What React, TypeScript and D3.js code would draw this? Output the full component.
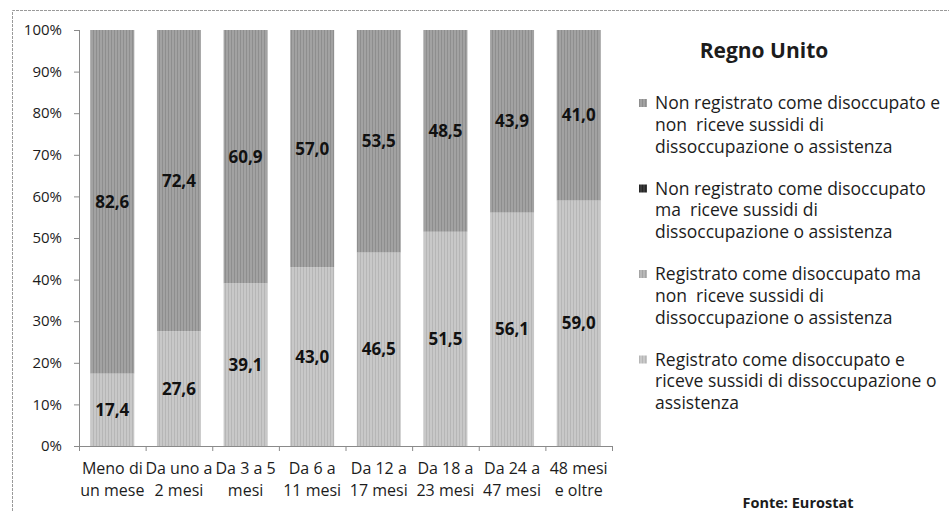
import React from "react";
import * as d3 from "d3";

const categories = [
  ["Meno di", "un mese"],
  ["Da uno a", "2 mesi"],
  ["Da 3 a 5", "mesi"],
  ["Da 6 a", "11 mesi"],
  ["Da 12 a", "17 mesi"],
  ["Da 18 a", "23 mesi"],
  ["Da 24 a", "47 mesi"],
  ["48 mesi", "e oltre"],
];

// Stacked bottom to top
const registratoRiceve = [17.4, 27.6, 39.1, 43.0, 46.5, 51.5, 56.1, 59.0];
const registratoNonRiceve = [0, 0, 0, 0, 0, 0, 0, 0];
const nonRegistratoRiceve = [0, 0, 0, 0, 0, 0, 0, 0];
const nonRegistratoNonRiceve = [82.6, 72.4, 60.9, 57.0, 53.5, 48.5, 43.9, 41.0];

const seriesKeys = ["rr", "rn", "nr", "nn"];
const seriesValues = [registratoRiceve, registratoNonRiceve, nonRegistratoRiceve, nonRegistratoNonRiceve];
const seriesColors = ["#c8c8c8", "#b8b8b8", "#3a3a3a", "#a2a2a2"];
const seriesStripe = ["#b6b6b6", "#a4a4a4", "#262626", "#8e8e8e"];

const legendItems = [
  { key: "nn", lines: ["Non registrato come disoccupato e", "non  riceve sussidi di", "dissoccupazione o assistenza"] },
  { key: "nr", lines: ["Non registrato come disoccupato", "ma  riceve sussidi di", "dissoccupazione o assistenza"] },
  { key: "rn", lines: ["Registrato come disoccupato ma", "non  riceve sussidi di", "dissoccupazione o assistenza"] },
  { key: "rr", lines: ["Registrato come disoccupato e", "riceve sussidi di dissoccupazione o", "assistenza"] },
];

const yTicks = [0, 10, 20, 30, 40, 50, 60, 70, 80, 90, 100];

const FONT = "'Open Sans', 'Noto Sans', sans-serif";
const TEXT = "#1c1c1c";

export default function App() {
  const W = 949;
  const H = 511;
  const plot = { left: 79, right: 612, top: 30, bottom: 446 };

  const rows = categories.map((c, i) => {
    const r: any = { i };
    seriesKeys.forEach((k, s) => (r[k] = seriesValues[s][i]));
    return r;
  });
  const stacked = d3.stack<any>().keys(seriesKeys)(rows);

  const x = d3.scaleBand<number>()
    .domain(categories.map((_, i) => i))
    .range([plot.left, plot.right])
    .paddingInner(0.34)
    .paddingOuter(0.17);
  const y = d3.scaleLinear().domain([0, 100]).range([plot.bottom, plot.top]);
  const step = (plot.right - plot.left) / categories.length;

  const fmt = d3.formatLocale({ decimal: ",", thousands: ".", grouping: [3], currency: ["", "€"] }).format(".1f");

  return (
    <svg width={W} height={H} style={{ position: "absolute", left: 0, top: 0, background: "#fff" }} fontFamily={FONT}>
      <defs>
        {seriesKeys.map((k, s) => (
          <pattern key={k} id={`stripe-${k}`} width={3} height={4} patternUnits="userSpaceOnUse">
            <rect width={3} height={4} fill={seriesColors[s]} />
            <rect x={0} width={1} height={4} fill={seriesStripe[s]} />
          </pattern>
        ))}
      </defs>
      <rect x={0} y={0} width={W} height={H} fill="#fff" />
      {/* outer frame */}
      <path d={`M12.5,${H} V10.5 H${W}`} fill="none" stroke="#9a9a9a" strokeWidth={1} strokeDasharray="3,1" />

      {/* y axis */}
      <line x1={plot.left + 0.5} x2={plot.left + 0.5} y1={plot.top} y2={plot.bottom} stroke="#8a8a8a" />
      {yTicks.map((t) => (
        <g key={t}>
          <line x1={plot.left - 5} x2={plot.left} y1={y(t) + 0.5} y2={y(t) + 0.5} stroke="#8a8a8a" />
          <text x={62} y={y(t)} dy="0.35em" textAnchor="end" fontSize={15} fill={TEXT}>{`${t}%`}</text>
        </g>
      ))}

      {/* bars */}
      {stacked.map((layer) =>
        layer.map((d, i) => {
          const h = y(d[0]) - y(d[1]);
          if (h <= 0) return null;
          return (
            <rect key={`${layer.key}-${i}`} x={x(i)} width={x.bandwidth()} y={y(d[1])} height={h}
              fill={`url(#stripe-${layer.key})`} />
          );
        })
      )}

      {/* x axis */}
      <line x1={plot.left} x2={plot.right} y1={plot.bottom + 0.5} y2={plot.bottom + 0.5} stroke="#8a8a8a" />
      {d3.range(categories.length + 1).map((j) => (
        <line key={j} x1={plot.left + j * step + 0.5} x2={plot.left + j * step + 0.5}
          y1={plot.bottom} y2={plot.bottom + 5} stroke="#8a8a8a" />
      ))}
      {categories.map((c, i) => (
        <text key={i} x={(x(i) as number) + x.bandwidth() / 2} textAnchor="middle" fontSize={16} fill={TEXT}>
          <tspan x={(x(i) as number) + x.bandwidth() / 2} y={474}>{c[0]}</tspan>
          <tspan x={(x(i) as number) + x.bandwidth() / 2} y={496}>{c[1]}</tspan>
        </text>
      ))}

      {/* value labels */}
      {stacked.map((layer) =>
        layer.map((d, i) => {
          const v = d[1] - d[0];
          if (v <= 0) return null;
          return (
            <text key={`l-${layer.key}-${i}`} x={(x(i) as number) + x.bandwidth() / 2} y={y((d[0] + d[1]) / 2)}
              dy="0.35em" textAnchor="middle" fontSize={17} fontWeight="bold" fill="#111">
              {fmt(v)}
            </text>
          );
        })
      )}

      {/* title and legend */}
      <text x={764} y={51} dy="0.35em" textAnchor="middle" fontSize={21} fontWeight="bold" fill={TEXT}>Regno Unito</text>
      {legendItems.map((item, n) => {
        const top = 103 + n * 85.5;
        return (
          <g key={item.key}>
            <rect x={639} y={top - 4} width={8} height={8} fill={`url(#stripe-${item.key})`} />
            {item.lines.map((ln, li) => (
              <text key={li} x={655} y={top + li * 21.7} dy="0.35em" fontSize={17.5} fill={TEXT} style={{ whiteSpace: "pre" }}>{ln}</text>
            ))}
          </g>
        );
      })}

      <text x={798} y={503} dy="0.35em" textAnchor="middle" fontSize={14.5} fontWeight="bold" fill={TEXT}>Fonte: Eurostat</text>
    </svg>
  );
}
